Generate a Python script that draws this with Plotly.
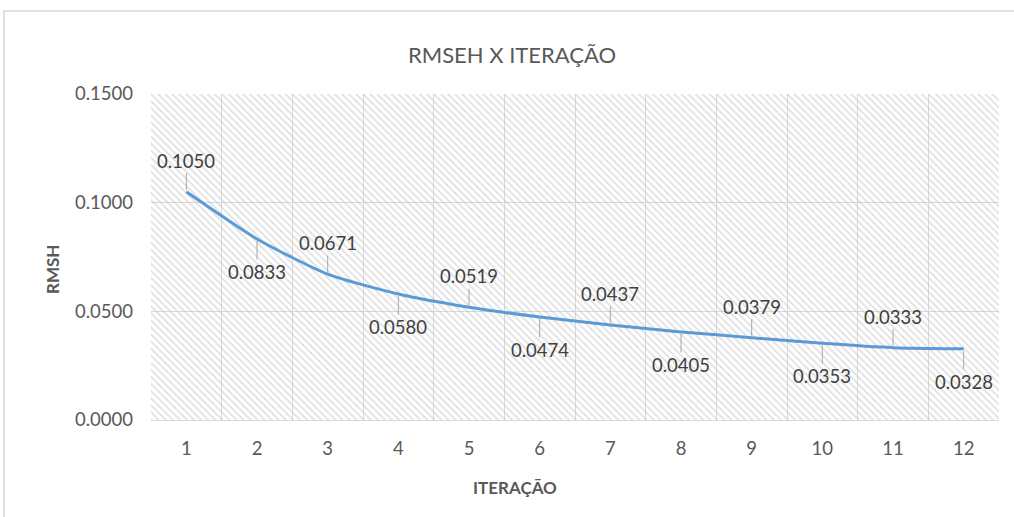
import plotly.graph_objects as go

# RMSH per iteration
iteracoes = [1, 2, 3, 4, 5, 6, 7, 8, 9, 10, 11, 12]
rmsh = [0.1050, 0.0833, 0.0671, 0.0580, 0.0519, 0.0474,
        0.0437, 0.0405, 0.0379, 0.0353, 0.0333, 0.0328]
y_ticks = [0.0, 0.05, 0.10, 0.15]

W, H = 1014, 517
L, R, T, B = 151, 15, 94, 97
x_range = [0.5, 12.5]
y_range = [0.0, 0.15]

AXIS_GRAY = "#d9d9d9"
TEXT_GRAY = "#595959"
LABEL_GRAY = "#404040"
FONT = "Lato, 'Open Sans', sans-serif"

fig = go.Figure()

# hatched plot-area background
fig.add_trace(go.Scatter(
    x=[x_range[0], x_range[1], x_range[1], x_range[0], x_range[0]],
    y=[y_range[0], y_range[0], y_range[1], y_range[1], y_range[0]],
    mode="lines", line=dict(width=0, color="rgba(0,0,0,0)"),
    fill="toself", fillcolor="rgba(0,0,0,0)",
    fillpattern=dict(shape="\\", fgcolor="#c4c4c4", bgcolor="rgba(0,0,0,0)",
                     size=5, solidity=0.35),
    hoverinfo="skip", showlegend=False,
))

# smoothed RMSH curve
fig.add_trace(go.Scatter(
    x=iteracoes, y=rmsh, mode="lines",
    line=dict(color="#5b9bd5", width=3, shape="spline", smoothing=0.6),
    showlegend=False,
))

# data labels with leader lines, alternating above / below
for i, (xv, yv) in enumerate(zip(iteracoes, rmsh)):
    above = (i % 2 == 0)
    fig.add_annotation(
        x=xv, y=yv, text=f"{yv:.4f}",
        showarrow=True, arrowhead=0, arrowwidth=1, arrowcolor="#a6a6a6",
        ax=0, ay=-31 if above else 33, standoff=2,
        font=dict(family=FONT, size=18.5, color=LABEL_GRAY),
        bgcolor="rgba(0,0,0,0)",
    )

fig.update_layout(
    width=W, height=H,
    margin=dict(l=L, r=R, t=T, b=B),
    paper_bgcolor="white", plot_bgcolor="white",
    font=dict(family=FONT, color=TEXT_GRAY),
    title=dict(text="RMSEH X ITERAÇÃO", x=512 / W, xref="container", xanchor="center",
               y=1 - 55 / H, yref="container", yanchor="middle",
               font=dict(family=FONT, size=22, color=TEXT_GRAY)),
    xaxis=dict(
        range=x_range, tickmode="array", tickvals=iteracoes,
        ticktext=[str(v) for v in iteracoes],
        showgrid=False, zeroline=False,
        showline=True, linecolor=AXIS_GRAY, linewidth=1,
        ticks="", ticklabelstandoff=12,
        tickfont=dict(family=FONT, size=18.5, color=TEXT_GRAY),
        minor=dict(tickmode="array", tickvals=[v + 0.5 for v in [0] + iteracoes],
                   showgrid=True, gridcolor=AXIS_GRAY, gridwidth=1, ticks=""),
    ),
    yaxis=dict(
        range=y_range, tickmode="array", tickvals=y_ticks,
        tickformat=".4f",
        showgrid=True, gridcolor=AXIS_GRAY, gridwidth=1, zeroline=False,
        showline=False, ticks="", ticklabelstandoff=17,
        tickfont=dict(family=FONT, size=18.5, color=TEXT_GRAY),
    ),
)

# axis titles
pw, ph = W - L - R, H - T - B
fig.add_annotation(text="<b>RMSH</b>", textangle=-90, xref="paper", yref="paper",
                   x=(52 - L) / pw, y=(H - B - 270) / ph,
                   xanchor="center", yanchor="middle",
                   showarrow=False, font=dict(family=FONT, size=17, color=TEXT_GRAY))
fig.add_annotation(text="<b>ITERAÇÃO</b>", xref="paper", yref="paper",
                   x=(515 - L) / pw, y=(H - B - 487) / ph,
                   xanchor="center", yanchor="middle",
                   showarrow=False, font=dict(family=FONT, size=17, color=TEXT_GRAY))

# chart frame
fig.add_shape(type="rect", xref="paper", yref="paper",
              x0=(4 - L) / pw, x1=(W + 5 - L) / pw,
              y0=(H - B - (H + 5)) / ph, y1=(H - B - 11) / ph,
              line=dict(color="#d9d9d9", width=1.5), layer="below")

fig.write_html("out.html")
